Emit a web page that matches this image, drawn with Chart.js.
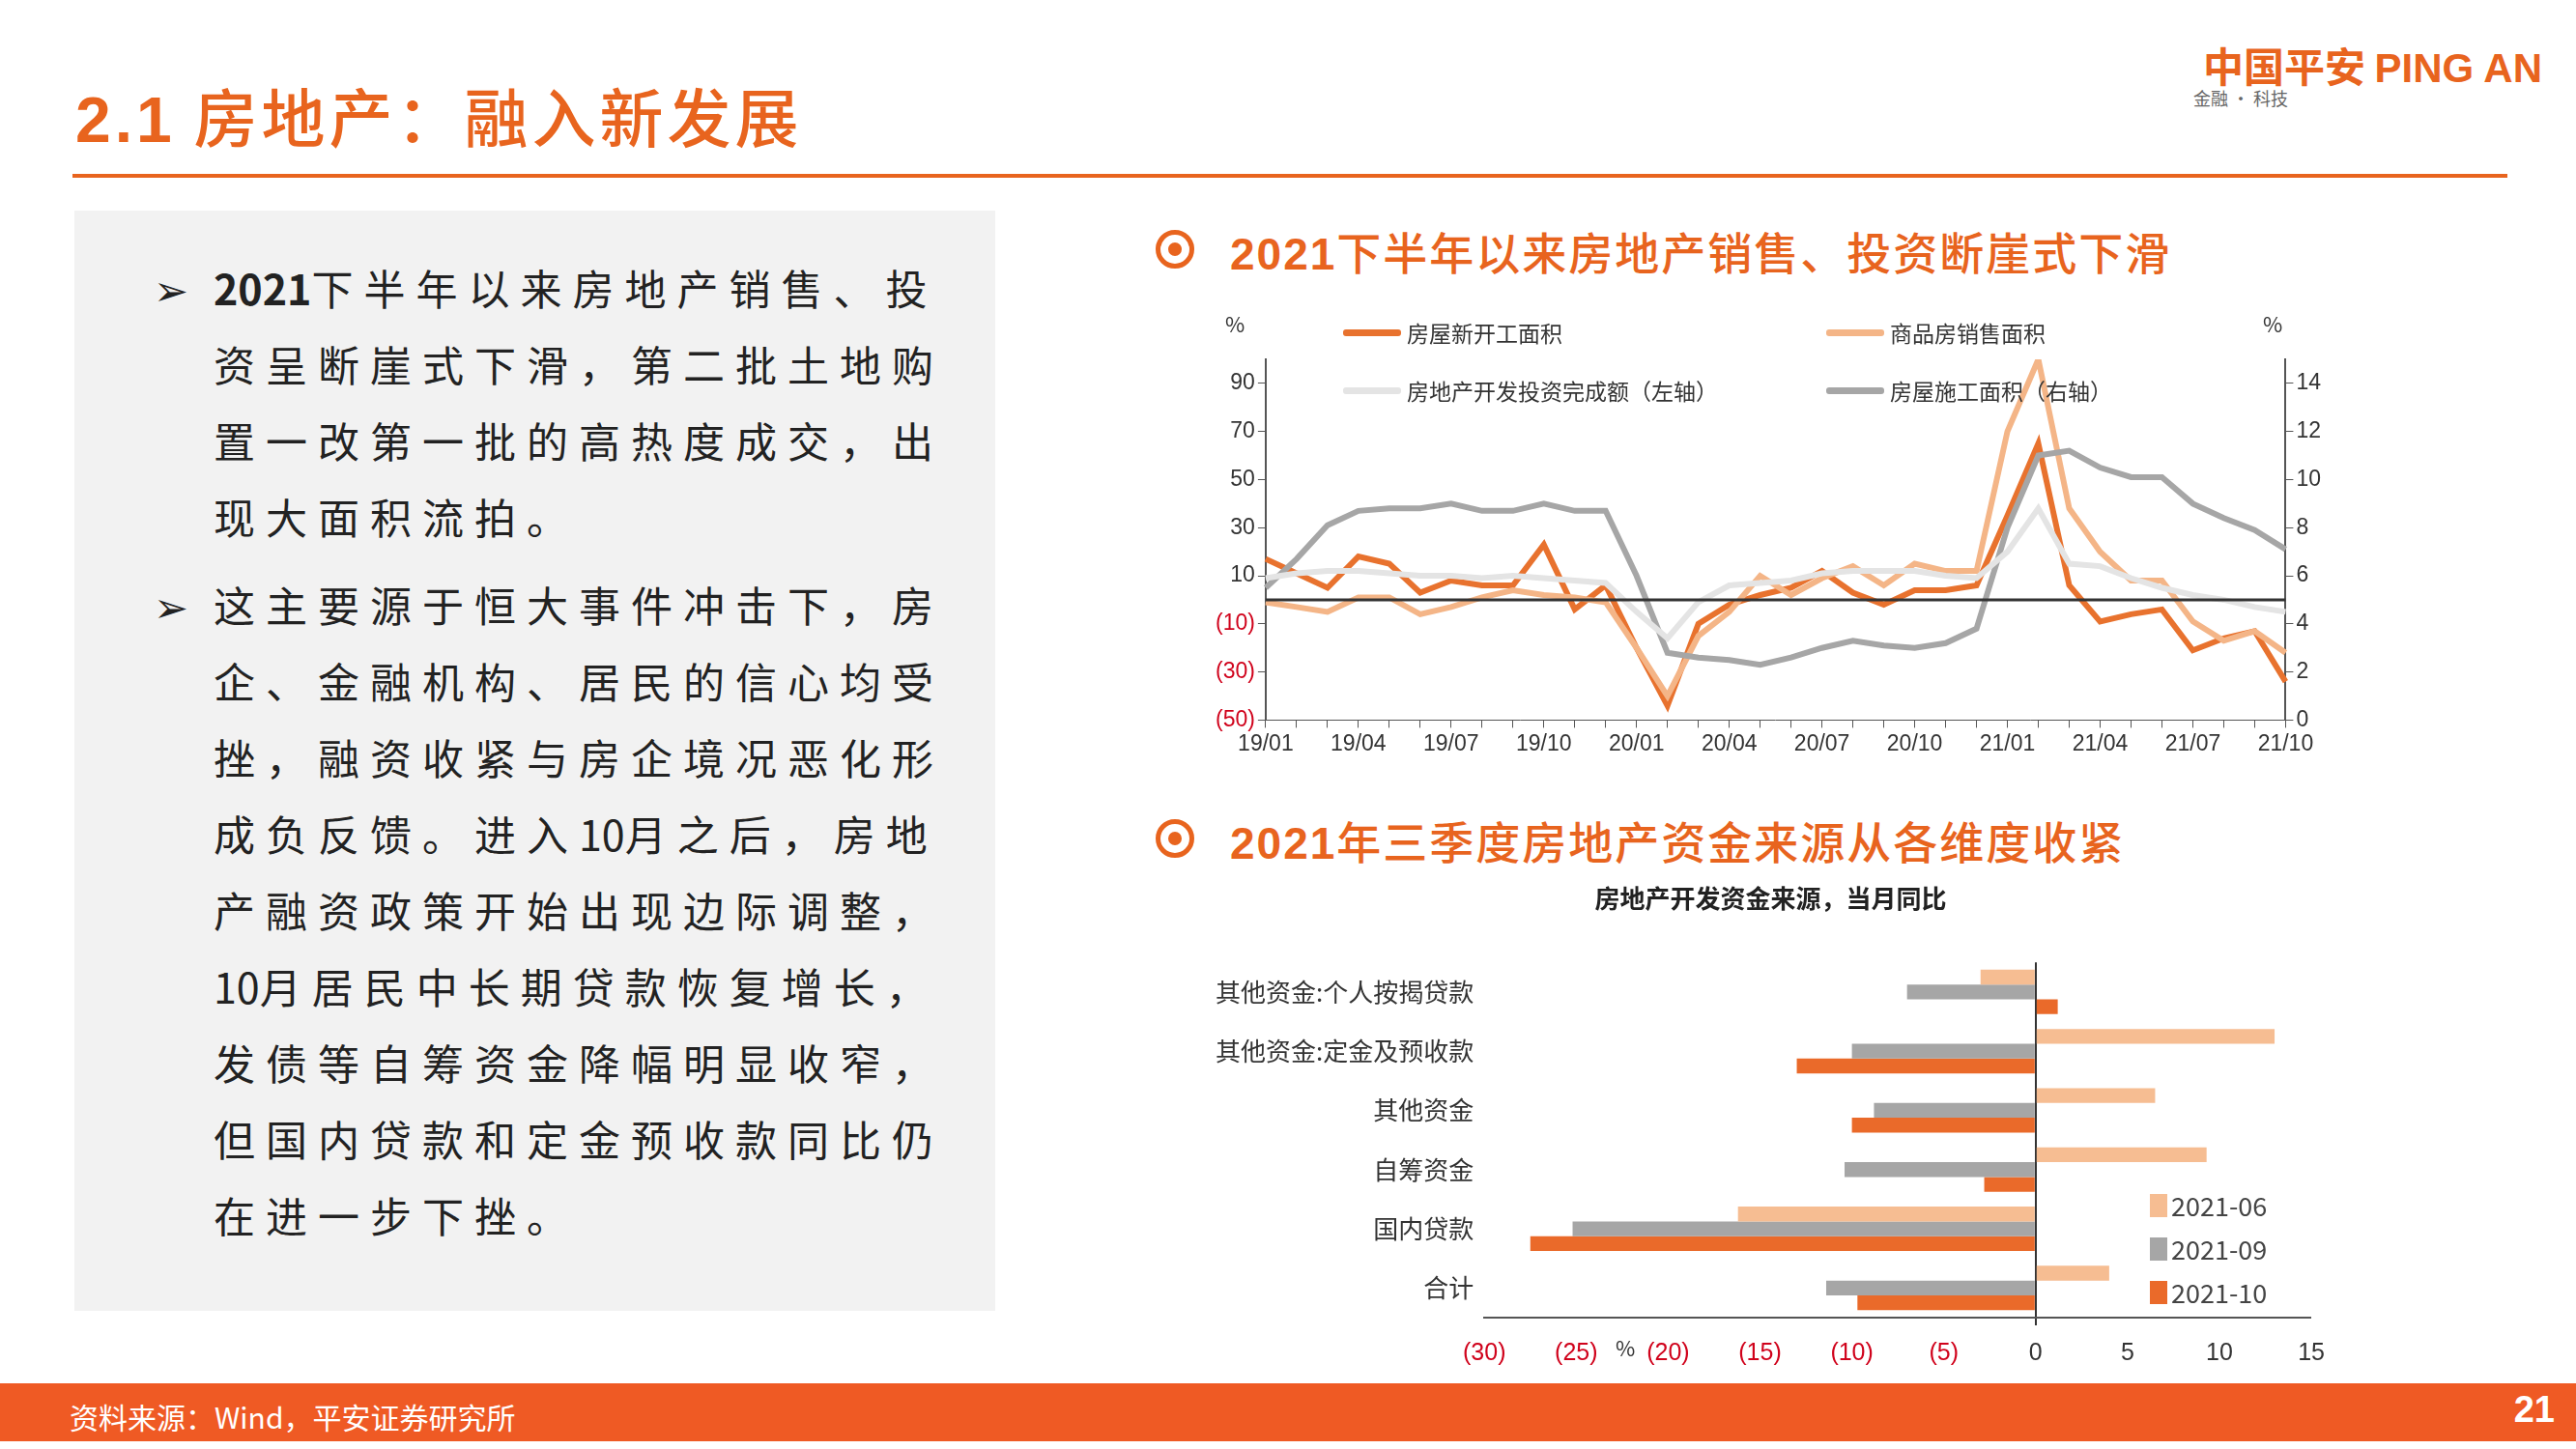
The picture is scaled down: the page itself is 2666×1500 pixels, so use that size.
<!DOCTYPE html>
<html><head><meta charset="utf-8">
<script src="https://cdn.jsdelivr.net/npm/chart.js@4/dist/chart.umd.min.js"></script>
<style>
body{margin:0;width:2666px;height:1500px;position:relative;background:#fff;font-family:"Noto Sans CJK SC","Noto Sans",sans-serif;overflow:hidden}
.abs{position:absolute}
#title{left:78px;top:70px;font-size:66px;color:#e8641e;font-weight:500;letter-spacing:4px}
#title b{font-family:"Liberation Sans";font-weight:bold}
#rule{left:75px;top:180px;width:2520px;height:4px;background:#e8641e}
#box{left:77px;top:218px;width:953px;height:1139px;background:#f2f2f2}
.para{left:221px;width:760px;font-size:43px;line-height:79px;color:#222;letter-spacing:11px}
.arrow{position:absolute;left:-62px;top:0;letter-spacing:0}
.sec{font-size:46px;color:#e8641e;font-weight:500;letter-spacing:2px}
.circ{width:30px;height:30px;border:5px solid #e8641e;border-radius:50%;}
.circ:after{content:"";position:absolute;left:8px;top:8px;width:14px;height:14px;background:#e8641e;border-radius:50%}
#foot{left:0;top:1432px;width:2666px;height:60px;background:#ef5a24;color:#fff;font-size:30px}
.leg{font-size:23px;color:#333;display:flex;align-items:center}
.leg i{display:inline-block;width:60px;height:7px;margin-right:6px;border-radius:3px}
.bl{font-size:27px;color:#444;display:flex;align-items:center;margin-bottom:6px}
.bl i{display:inline-block;width:18px;height:24px;margin-right:4px}
</style></head><body>
<div class="abs" id="title"><b>2.1</b> 房地产：融入新发展</div>
<div class="abs" style="right:35px;top:36px;color:#e8641e;font-size:42px;font-weight:bold;font-family:'Noto Sans CJK SC'">中国平安 <span style="font-family:'Liberation Sans'">PING AN</span></div>
<div class="abs" style="left:2270px;top:88px;font-size:18px;color:#666">金融 · 科技</div>
<div class="abs" id="rule"></div>
<div class="abs" id="box"></div>
<div class="abs para" style="top:258px"><span class="arrow">➢</span><b style="letter-spacing:0">2021</b>下半年以来房地产销售、投资呈断崖式下滑，第二批土地购置一改第一批的高热度成交，出现大面积流拍。</div>
<div class="abs para" style="top:586px"><span class="arrow">➢</span>这主要源于恒大事件冲击下，房企、金融机构、居民的信心均受挫，融资收紧与房企境况恶化形成负反馈。进入<span style="letter-spacing:0">10</span>月之后，房地产融资政策开始出现边际调整，<span style="letter-spacing:0">10</span>月居民中长期贷款恢复增长，发债等自筹资金降幅明显收窄，但国内贷款和定金预收款同比仍在进一步下挫。</div>

<div class="abs circ" style="left:1196px;top:238px"></div>
<div class="abs sec" style="left:1273px;top:226px"><b style="font-family:'Liberation Sans'">2021</b>下半年以来房地产销售、投资断崖式下滑</div>
<div class="abs circ" style="left:1196px;top:848px"></div>
<div class="abs sec" style="left:1273px;top:836px"><b style="font-family:'Liberation Sans'">2021</b>年三季度房地产资金来源从各维度收紧</div>

<div class="abs" style="left:1255px;top:312px;width:1150px;height:475px"><canvas id="c1"></canvas></div>
<div class="abs leg" style="left:1390px;top:327px"><i style="background:#e8722e"></i>房屋新开工面积</div>
<div class="abs leg" style="left:1890px;top:327px"><i style="background:#f4b587"></i>商品房销售面积</div>
<div class="abs leg" style="left:1390px;top:387px"><i style="background:#e4e4e4"></i>房地产开发投资完成额（左轴）</div>
<div class="abs leg" style="left:1890px;top:387px"><i style="background:#a6a6a6"></i>房屋施工面积（右轴）</div>
<div class="abs" style="left:1268px;top:318px;font-size:22px;color:#333">%</div>
<div class="abs" style="left:2342px;top:318px;font-size:22px;color:#333">%</div>

<div class="abs" style="left:1255px;top:905px;width:1165px;height:525px"><canvas id="c2"></canvas></div>
<div class="abs" style="left:2225px;top:1228px">
<div class="bl"><i style="background:#f6bd92"></i>2021-06</div>
<div class="bl"><i style="background:#a6a6a6"></i>2021-09</div>
<div class="bl"><i style="background:#ea6a2a"></i>2021-10</div></div>
<div class="abs" style="left:1672px;top:1378px;font-size:22px;color:#333">%</div>

<div class="abs" id="foot"><span style="position:absolute;left:72px;top:12px">资料来源：Wind，平安证券研究所</span><span style="position:absolute;right:22px;top:6px;font-size:38px;font-weight:bold;font-family:'Liberation Sans'">21</span></div>
<script>
const months=["19/01","19/02","19/03","19/04","19/05","19/06","19/07","19/08","19/09","19/10","19/11","19/12","20/01","20/02","20/03","20/04","20/05","20/06","20/07","20/08","20/09","20/10","20/11","20/12","21/01","21/02","21/03","21/04","21/05","21/06","21/07","21/08","21/09","21/10"];
const newStarts=[17,11,5,18,15,3,8,6,6,23,-4,6,-20,-44,-10,-2,2,5,12,3,-2,4,4,6,35,65,6,-9,-6,-4,-21,-16,-13,-34];
const sales=[-1,-3,-5,1,1,-6,-3,1,4,2,1,-1,-20,-40,-15,-5,10,2,9,14,6,15,12,12,70,100,38,20,8,8,-9,-17,-13,-22];
const investment=[9,11,12,12,11,10,10,9,10,9,8,7,-5,-16,-1,6,7,8,11,12,12,12,10,9,20,38,15,14,9,5,2,0,-3,-5];
const underConstruction=[5.5,6.7,8.1,8.7,8.8,8.8,9.0,8.7,8.7,9.0,8.7,8.7,6.0,2.8,2.6,2.5,2.3,2.6,3.0,3.3,3.1,3.0,3.2,3.8,8.0,11.0,11.2,10.5,10.1,10.1,9.0,8.4,7.9,7.1];
const leftTicks=[-50,-30,-10,10,30,50,70,90];
const rightTicks=[0,2,4,6,8,10,12,14];
const fundCats=["其他资金:个人按揭贷款","其他资金:定金及预收款","其他资金","自筹资金","国内贷款","合计"];
const fund2106=[-3,13,6.5,9.3,-16.2,4];
const fund2109=[-7,-10,-8.8,-10.4,-25.2,-11.4];
const fund2110=[1.2,-13,-10,-2.8,-27.5,-9.7];

const paren=v=>v<0?"("+Math.abs(v)+")":String(v);
const tf={family:"Liberation Sans",size:23};
Chart.defaults.animation=false;
new Chart(document.getElementById('c1'),{type:'line',
data:{labels:months,datasets:[
{data:investment,borderColor:'#e4e4e4',borderWidth:6,pointRadius:0,yAxisID:'y',tension:0},
{data:underConstruction,borderColor:'#a6a6a6',borderWidth:6,pointRadius:0,yAxisID:'y1',tension:0},
{data:sales,borderColor:'#f4b587',borderWidth:6,pointRadius:0,yAxisID:'y',tension:0},
{data:newStarts,borderColor:'#e8722e',borderWidth:6,pointRadius:0,yAxisID:'y',tension:0}]},
options:{responsive:true,maintainAspectRatio:false,layout:{padding:{top:60,left:0,right:0}},
plugins:{legend:{display:false},tooltip:{enabled:false}},
scales:{
x:{grid:{drawOnChartArea:false,tickLength:8,color:'#555'},border:{color:'#555'},
 ticks:{autoSkip:false,maxRotation:0,font:tf,color:'#333',callback:(v,i)=>i%3===0?months[i]:''}},
y:{min:-50,max:100,afterBuildTicks:a=>{a.ticks=leftTicks.map(v=>({value:v}))},
 ticks:{font:tf,callback:v=>paren(v),color:c=>c.tick.value<0?'#d0021b':'#333'},
 border:{color:'#555',width:2},grid:{drawOnChartArea:false,tickLength:8,color:'#555',lineWidth:1}},
y1:{position:'right',min:0,max:15,afterBuildTicks:a=>{a.ticks=rightTicks.map(v=>({value:v}))},
 ticks:{font:tf,color:'#333'},border:{color:'#555',width:2},grid:{drawOnChartArea:false,tickLength:8,color:'#555'}}
}},
plugins:[{id:'zero',afterDatasetsDraw(ch){const y=ch.scales.y.getPixelForValue(0),a=ch.chartArea,c=ch.ctx;c.save();c.strokeStyle='#333';c.lineWidth=3;c.beginPath();c.moveTo(a.left,y);c.lineTo(a.right,y);c.stroke();c.restore();}}]
});

new Chart(document.getElementById('c2'),{type:'bar',
data:{labels:fundCats,datasets:[
{data:fund2106,backgroundColor:'#f6bd92',categoryPercentage:0.75,barPercentage:1},
{data:fund2109,backgroundColor:'#a6a6a6',categoryPercentage:0.75,barPercentage:1},
{data:fund2110,backgroundColor:'#ea6a2a',categoryPercentage:0.75,barPercentage:1}]},
options:{indexAxis:'y',responsive:true,maintainAspectRatio:false,layout:{padding:{top:10,right:10}},
plugins:{legend:{display:false},tooltip:{enabled:false},
 title:{display:true,text:'房地产开发资金来源，当月同比',font:{family:'Noto Sans CJK SC',size:26,weight:'bold'},color:'#222',padding:{bottom:50}}},
scales:{
x:{min:-30,max:15,ticks:{stepSize:5,font:{family:'Liberation Sans',size:25},color:c=>c.tick.value<0?'#d0021b':'#333',callback:v=>paren(v),padding:14},
 border:{color:'#555',width:2},grid:{drawOnChartArea:true,tickLength:8,color:c=>c.tick.value===0?'#333':'rgba(0,0,0,0)',lineWidth:c=>c.tick.value===0?2:0}},
y:{ticks:{font:{family:'Noto Sans CJK SC',size:26},color:'#333'},border:{display:false},grid:{display:false}}
}}});
</script></body></html>
